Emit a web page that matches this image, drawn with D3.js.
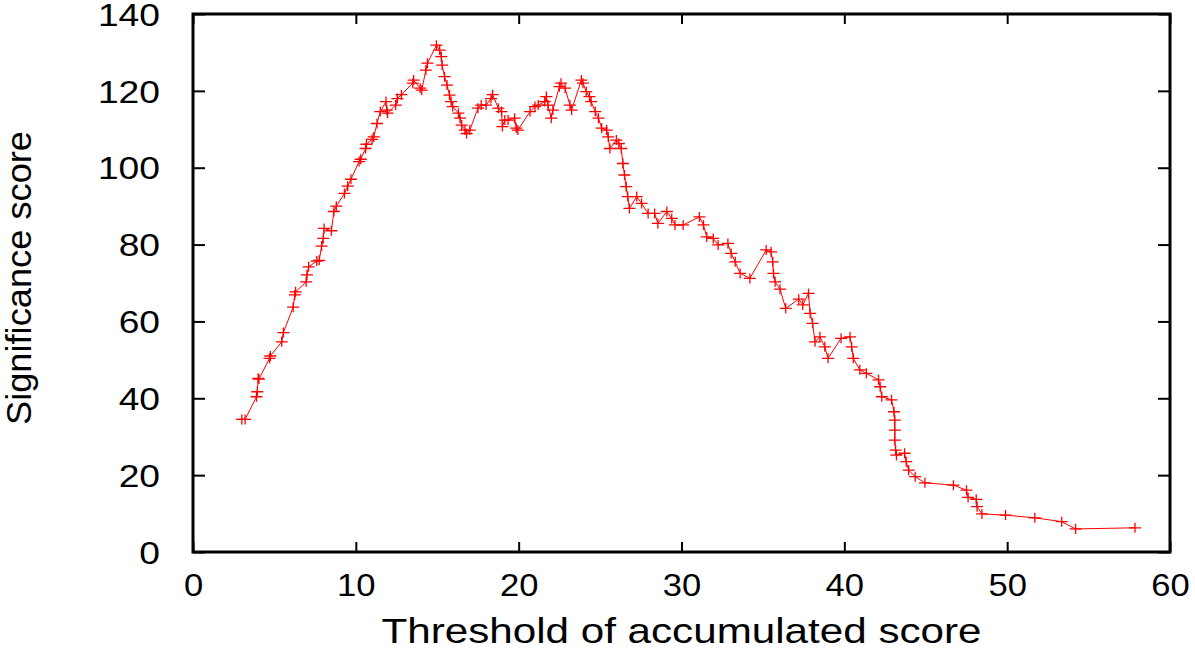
<!DOCTYPE html>
<html>
<head>
<meta charset="utf-8">
<script src="https://cdn.jsdelivr.net/npm/d3@7"></script>
<style>
  html, body { margin: 0; padding: 0; background: #fff; }
  svg { display: block; }
  text { font-family: "Liberation Sans", Arial, sans-serif; fill: #000; }
</style>
</head>
<body>
<svg id="chart" width="1195" height="652"></svg>
<script>
// Data (threshold, significance score)
const thresholds = [3.0,3.2,3.9,3.95,4.0,4.05,4.7,4.75,5.45,5.55,6.15,6.25,6.3,6.95,7.0,7.1,7.6,7.75,7.9,8.0,8.05,8.5,8.65,8.8,9.3,9.5,9.7,10.2,10.3,10.6,10.65,11.0,11.1,11.3,11.5,11.85,11.9,11.95,12.45,12.55,12.8,13.5,13.55,13.95,14.05,14.3,14.4,14.95,15.15,15.25,15.3,15.45,15.6,15.75,15.85,15.95,16.3,16.4,16.5,16.7,16.8,17.0,17.5,17.7,18.0,18.3,18.4,18.75,18.95,19.0,19.15,19.35,19.75,19.85,19.95,20.7,21.0,21.2,21.6,21.7,21.8,22.0,22.1,22.5,22.6,22.85,23.15,23.25,23.85,23.95,24.15,24.35,24.45,24.7,24.9,25.1,25.4,25.5,25.6,26.0,26.15,26.3,26.4,26.5,26.6,26.7,26.8,27.25,27.55,27.95,28.35,28.55,29.1,29.4,29.6,30.1,31.1,31.35,31.55,31.95,32.25,32.85,33.05,33.3,33.6,34.2,35.2,35.5,35.6,35.65,35.75,36.05,36.4,37.2,37.45,37.8,37.9,38.05,38.2,38.5,38.8,39.0,39.8,40.35,40.45,40.55,40.95,41.35,42.1,42.2,42.3,42.9,43.05,43.1,43.1,43.1,43.15,43.2,43.7,43.8,43.95,44.35,44.95,46.7,47.5,47.6,48.1,48.15,48.45,49.9,51.7,53.35,54.2,57.85];
const scores = [34.5,34.5,40.4,41.7,45.2,45.0,50.4,51.0,54.7,57.1,63.7,66.9,67.7,70.3,72.1,74.2,75.7,75.9,79.6,81.6,84.2,83.6,88.6,90.0,93.3,95.2,97.0,101.6,102.2,105.0,106.1,107.4,108.0,111.5,114.6,117.2,115.0,114.2,116.3,118.0,119.0,122.0,122.8,120.7,120.2,125.4,127.2,131.9,130.6,128.9,126.7,123.7,121.5,118.9,117.2,115.9,114.2,112.9,111.1,109.8,108.9,109.8,115.5,116.3,116.3,118.0,119.0,115.5,114.6,110.7,112.4,112.4,112.9,110.3,109.8,114.6,115.9,116.3,117.2,118.5,116.3,112.9,115.0,121.1,122.0,120.7,116.3,115.0,122.8,122.0,119.8,118.5,117.2,114.6,112.9,110.3,109.8,108.0,105.0,107.2,106.3,105.0,101.1,98.1,95.1,92.5,89.4,92.5,90.7,88.1,88.1,85.5,88.6,86.8,85.1,85.1,87.2,85.1,82.0,81.6,79.9,80.3,77.7,75.5,72.5,71.2,78.6,78.1,75.5,72.5,70.3,68.4,63.4,65.8,64.3,67.3,62.1,59.5,54.7,56.0,53.4,50.4,55.6,56.0,53.4,50.4,47.4,46.5,44.8,43.0,40.4,39.6,36.5,34.3,31.7,29.1,26.5,25.2,25.7,23.5,21.3,19.6,18.0,17.4,16.1,14.2,13.7,11.8,9.9,9.6,8.9,7.9,6.0,6.3];
const xTicks = [0,10,20,30,40,50,60];
const yTicks = [0,20,40,60,80,100,120,140];
const xTitle = "Threshold of accumulated score";
const yTitle = "Significance score";

const points = thresholds.map((t, i) => ({x: t, y: scores[i]}));

const svg = d3.select("#chart");
const pLeft = 193, pRight = 1170, pTop = 14, pBottom = 552;

const x = d3.scaleLinear().domain([0, 60]).range([pLeft, pRight]);
const y = d3.scaleLinear().domain([0, 140]).range([pBottom, pTop]);

// Axes (ticks pointing inward)
const gx = svg.append("g").attr("transform", `translate(0,${pBottom})`)
  .call(d3.axisBottom(x).tickValues(xTicks).tickSize(-10).tickPadding(21).tickFormat(d3.format("d")));
const gxt = svg.append("g").attr("transform", `translate(0,${pTop})`)
  .call(d3.axisTop(x).tickValues(xTicks).tickSize(-10).tickFormat(""));
const gy = svg.append("g").attr("transform", `translate(${pLeft},0)`)
  .call(d3.axisLeft(y).tickValues(yTicks).tickSize(-12).tickPadding(33).tickFormat(d3.format("d")));
const gyr = svg.append("g").attr("transform", `translate(${pRight},0)`)
  .call(d3.axisRight(y).tickValues(yTicks).tickSize(-12).tickFormat(""));

[gx, gxt, gy, gyr].forEach(g => {
  g.select(".domain").remove();
  g.selectAll(".tick line").attr("stroke", "#000").attr("stroke-width", 2);
});

gx.selectAll(".tick text")
  .attr("font-size", 32)
  .attr("font-family", "Liberation Sans, Arial, sans-serif")
  .attr("fill", "#000")
  .each(function() {
    const w = this.getComputedTextLength();
    d3.select(this).attr("textLength", w * 1.08).attr("lengthAdjust", "spacingAndGlyphs");
  });

gy.selectAll(".tick text")
  .attr("font-size", 31)
  .attr("font-family", "Liberation Sans, Arial, sans-serif")
  .attr("fill", "#000")
  .attr("dy", "0.36em")
  .each(function() {
    const w = this.getComputedTextLength();
    d3.select(this).attr("textLength", w * 1.2).attr("lengthAdjust", "spacingAndGlyphs");
  });

// Frame
svg.append("rect")
  .attr("x", pLeft).attr("y", pTop)
  .attr("width", pRight - pLeft).attr("height", pBottom - pTop)
  .attr("fill", "none").attr("stroke", "#000").attr("stroke-width", 3);

// Line
const line = d3.line().x(d => x(d.x)).y(d => y(d.y));
svg.append("path")
  .datum(points)
  .attr("d", line)
  .attr("fill", "none")
  .attr("stroke", "#ff0000")
  .attr("stroke-width", 1);

// Plus markers
const plus = "M-6,0H6M0,-5V5";
svg.append("g").selectAll("path")
  .data(points)
  .join("path")
  .attr("transform", d => `translate(${x(d.x)},${y(d.y)})`)
  .attr("d", plus)
  .attr("fill", "none")
  .attr("stroke", "#ff0000")
  .attr("stroke-width", 1.3);

// Titles
svg.append("text")
  .attr("x", (pLeft + pRight) / 2).attr("y", 643)
  .attr("text-anchor", "middle")
  .attr("font-size", 35)
  .attr("textLength", 600).attr("lengthAdjust", "spacingAndGlyphs")
  .text(xTitle);

svg.append("text")
  .attr("transform", `translate(31,${278}) rotate(-90)`)
  .attr("text-anchor", "middle")
  .attr("font-size", 35)
  .attr("textLength", 294).attr("lengthAdjust", "spacingAndGlyphs")
  .text(yTitle);
</script>
</body>
</html>
